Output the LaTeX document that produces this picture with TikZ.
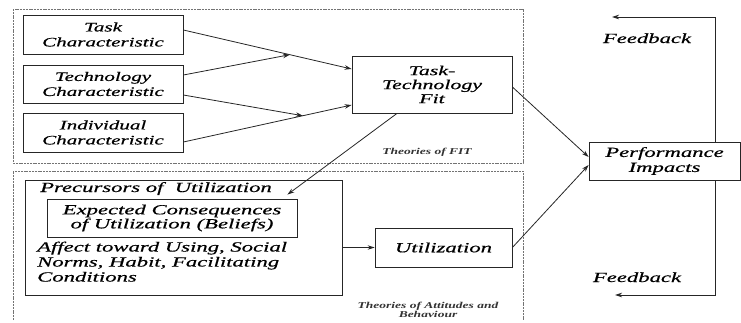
\documentclass[tikz,border=0pt]{standalone}
\usepackage{fontspec}
\newfontfamily\dfont{Liberation Serif Italic}[FakeStretch=1.62, FakeBold=0.6]
\newfontfamily\sfontb{Liberation Serif Bold Italic}[FakeStretch=1.5]
\usetikzlibrary{arrows.meta}
\tikzset{
  box/.style={draw=black!85, line width=0.8pt, rectangle, inner sep=0pt, align=center,
    font=\dfont\fontsize{13}{15}\selectfont},
  bigtxt/.style={font=\dfont\fontsize{14}{15}\selectfont},
  smalltxt/.style={font=\sfontb\fontsize{9}{10}\selectfont, text=black!80, align=center, inner sep=0pt},
  frame/.style={draw=black!55, line width=0.9pt, dash pattern=on 2pt off 0.8pt},
  arr/.style={draw=black!85, line width=0.8pt, -{Stealth[length=7pt,width=4.5pt]}},
  plain/.style={inner sep=0pt}
}
\begin{document}
\begin{tikzpicture}[x=1pt,y=-1pt]
\useasboundingbox (0,0) rectangle (741,322);
% frames
\draw[frame] (13,9) rectangle (523,163);
\draw[frame] (13,320) -- (13,171) -- (523,171) -- (523,320);
% top nodes
\node[box, minimum width=160pt, minimum height=39pt] (task) at (103,34.5) {Task\\Characteristic};
\node[box, minimum width=160pt, minimum height=38pt] (tech) at (103,84) {Technology\\Characteristic};
\node[box, minimum width=160pt, minimum height=39pt] (indiv) at (103,132.5) {Individual\\Characteristic};
\node[box, minimum width=160pt, minimum height=57pt, font=\dfont\fontsize{13.5}{14}\selectfont] (ttf) at (432,84.5) {Task-\\Technology\\Fit};
\node[box, minimum width=151pt, minimum height=38pt, font=\dfont\fontsize{14}{15}\selectfont] (perf) at (664.5,161) {Performance\\Impacts};
% bottom nodes
\node[box, minimum width=317pt, minimum height=115pt] (prec) at (183.5,237.5) {};
\node[box, minimum width=250pt, minimum height=38pt, font=\dfont\fontsize{14}{14}\selectfont] (expc) at (172,218) {Expected Consequences\\of Utilization (Beliefs)};
\node[box, minimum width=137pt, minimum height=39pt, font=\dfont\fontsize{14}{15}\selectfont] (util) at (443.5,247.5) {Utilization};
\node[bigtxt, plain, anchor=base west] (prectitle) at (40,192) {Precursors of\ \ Utilization};
\node[bigtxt, plain, anchor=north west, align=left] (affect) at (37,241.5) {Affect toward Using, Social\\Norms, Habit, Facilitating\\Conditions};
% labels
\node[smalltxt] (thfit) at (427,152) {Theories of FIT};
\node[smalltxt, font=\sfontb\fontsize{9}{9.5}\selectfont] (thatt) at (428,310) {Theories of Attitudes and\\Behaviour};
\node[bigtxt, plain, anchor=base] (fbtxt1) at (647,43) {Feedback};
\node[bigtxt, plain, anchor=base] (fbtxt2) at (637,282) {Feedback};
% arrows
\path ([yshift=4.5pt]task.east) -- coordinate[pos=0.633] (m1) ([yshift=15.5pt]ttf.west);
\path ([yshift=-9.5pt]indiv.east) -- coordinate[pos=0.71] (m2) ([yshift=-20.5pt]ttf.west);
\draw[arr] ([yshift=4.5pt]task.east) -- ([yshift=15.5pt]ttf.west);
\draw[arr] ([yshift=-9.5pt]indiv.east) -- ([yshift=-20.5pt]ttf.west);
\draw[arr] ([yshift=9pt]tech.east) -- (m1);
\draw[arr] ([yshift=-11pt]tech.east) -- (m2);
\draw[arr] ([xshift=-35pt]ttf.south) -- ([xshift=-10pt,yshift=4pt]expc.north east);
\draw[arr] ([yshift=-2.5pt]ttf.east) -- ([yshift=4pt]perf.west);
\draw[arr] (util.east) -- ([yshift=-4pt]perf.west);
\draw[arr] (prec.east |- util.west) -- (util.west);
\coordinate (fbtop) at (612,17);
\coordinate (fbbot) at (615,295);
\draw[arr] ([xshift=50.5pt]perf.north) |- (fbtop);
\draw[arr] ([xshift=50.5pt]perf.south) |- (fbbot);
\end{tikzpicture}
\end{document}
